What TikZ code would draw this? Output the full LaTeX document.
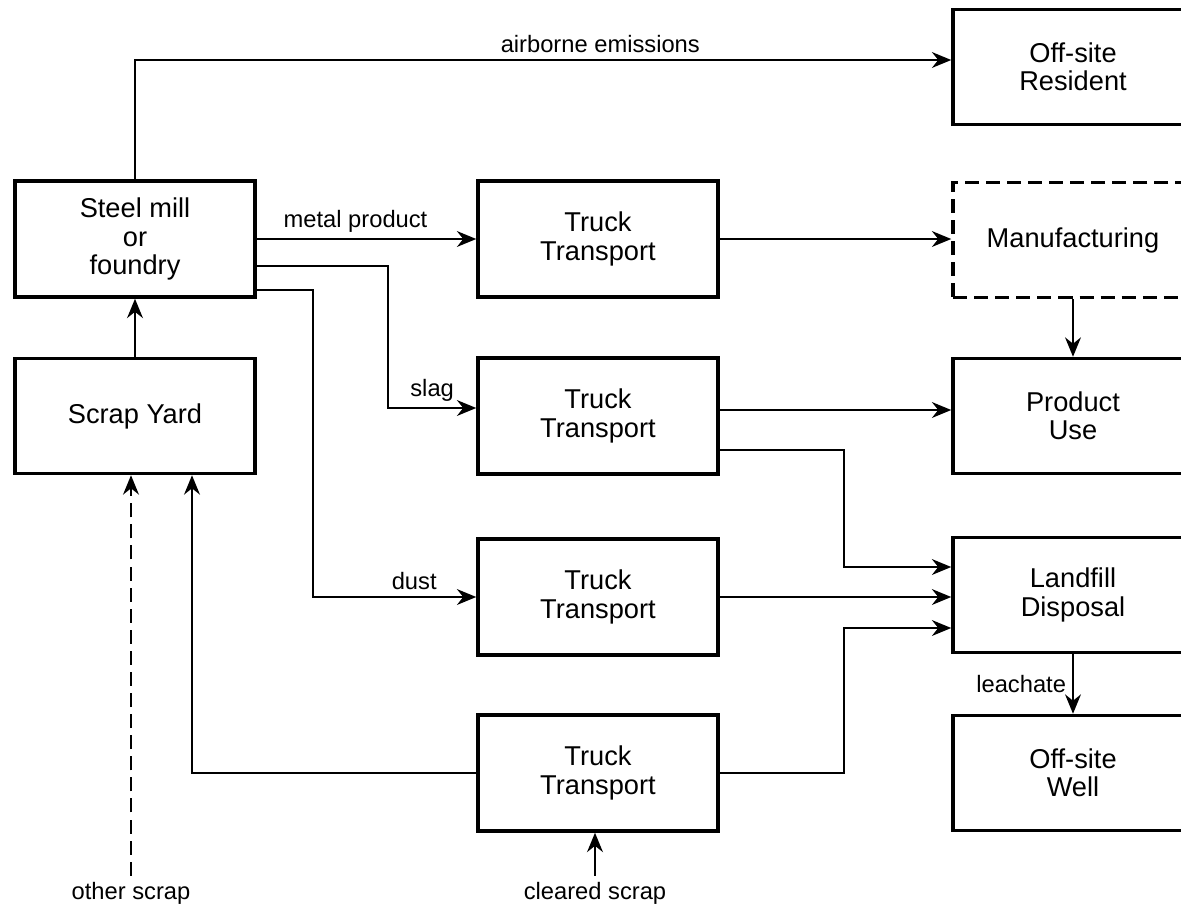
\documentclass[tikz,border=0pt]{standalone}
\usepackage{fontspec}
\setmainfont{Liberation Sans}
\usetikzlibrary{arrows.meta,calc}

\begin{document}
\begin{tikzpicture}[x=.02cm,y=-.02cm,
  box/.style={draw,line width=2pt,minimum width=4.8cm,minimum height=2.32cm,
    align=center,font=\fontsize{15.5}{16}\selectfont},
  flow/.style={line width=1.3pt,-{Stealth[length=11pt,width=9pt]}},
  lbl/.style={font=\fontsize{13.5}{14}\selectfont}]
  \useasboundingbox (0,0) rectangle (1181,907);
  \clip (0,0) rectangle (1181,907);
  % boxes
  \node[box] (mill) at (135,239) {Steel mill\\or\\foundry};
  \node[box,minimum height=2.3cm] (yard) at (135,416) {Scrap Yard};
  \node[box] (truckA) at (598,239) {Truck\\Transport};
  \node[box] (truckB) at (598,416) {Truck\\Transport};
  \node[box] (truckC) at (598,597) {Truck\\Transport};
  \node[box] (truckD) at (598,773) {Truck\\Transport};
  \node[box,minimum height=2.3cm] (resident) at (1073,67) {Off-site\\Resident};
  \node[box,minimum height=2.3cm,dash pattern=on 8pt off 4pt] (manuf) at (1073,240) {Manufacturing};
  \node[box,minimum height=2.3cm] (use) at (1073,416) {Product\\Use};
  \node[box,minimum height=2.3cm] (landfill) at (1073,595) {Landfill\\Disposal};
  \node[box,minimum height=2.3cm] (well) at (1073,773) {Off-site\\Well};
  \node[lbl] (other) at (131,893) {other scrap};
  \node[lbl] (cleared) at (595,893) {cleared scrap};
  %
  \coordinate (slagbend) at (388,408);
  \coordinate (dustbend) at (313,597);
  % flows
  \draw[flow] (mill.north) |- ($(resident.west)+(0,-7)$) node[lbl,above,pos=.785] {airborne emissions};
  \draw[flow] (mill) -- node[lbl,above,pos=.45] {metal product} (truckA);
  \draw[flow] ($(mill.east)+(0,27)$) -| (slagbend) -- node[lbl,above] {slag} (slagbend -| truckB.west);
  \draw[flow] ($(mill.east)+(0,51)$) -| (dustbend) -- node[lbl,above,pos=.62] {dust} (truckC);
  \draw[flow] (truckA) -- (truckA.east -| manuf.west);
  \draw[flow] (manuf) -- (use);
  \draw[flow] ($(truckB.east)+(0,-6)$) -- ($(use.west)+(0,-6)$);
  \draw[flow] ($(truckB.east)+(0,34)$) -| ($(landfill.west)+(-107,-28)$) -- ($(landfill.west)+(0,-28)$);
  \draw[flow] (truckC.east) -- (truckC.east -| landfill.west);
  \draw[flow] (truckD.east) -| ($(landfill.west)+(-107,33)$) -- ($(landfill.west)+(0,33)$);
  \draw[flow] (landfill) -- node[lbl,left] {leachate} (well);
  \draw[flow] (yard) -- (mill);
  \draw[flow] (truckD.west) -| ($(yard.south)+(57,0)$);
  \draw[flow,dash pattern=on 8pt off 4pt] (other.north) -- (other.north |- yard.south);
  \draw[flow] (cleared) -- (cleared |- truckD.south);
\end{tikzpicture}
\end{document}
